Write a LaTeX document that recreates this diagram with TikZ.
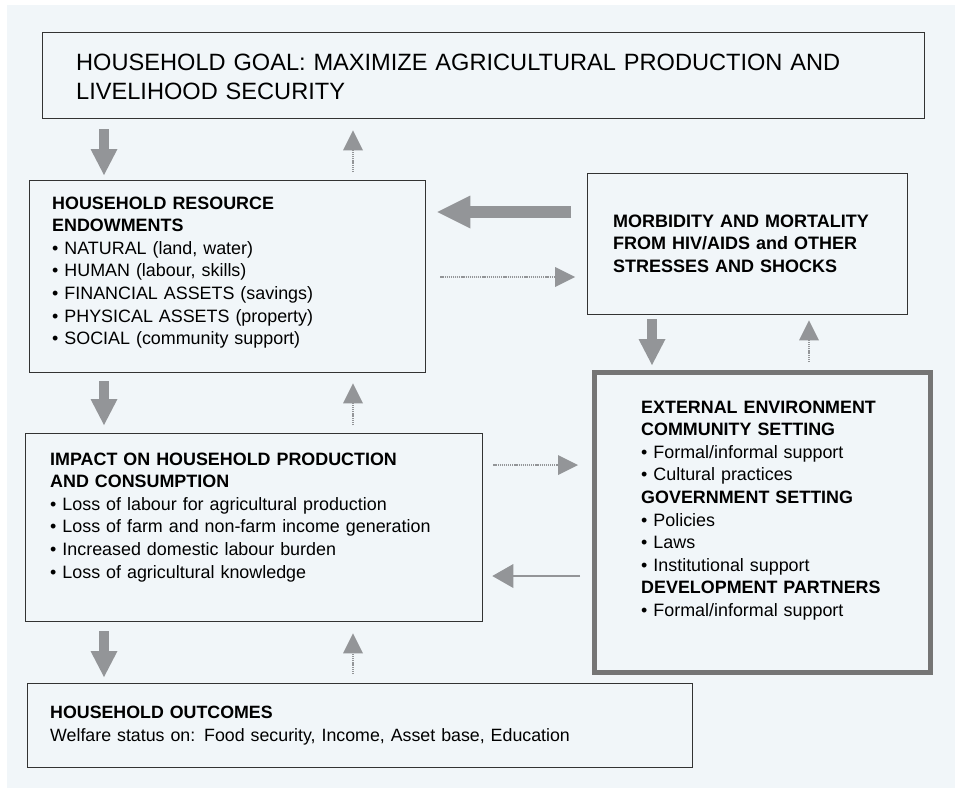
\documentclass[tikz,border=0pt]{standalone}
\usepackage{fontspec}
\setmainfont{Liberation Sans}
\usetikzlibrary{arrows.meta,calc}
\definecolor{bgc}{HTML}{F1F6F9}
\definecolor{arrc}{HTML}{939598}
\definecolor{boxc}{HTML}{333333}
\definecolor{extc}{HTML}{757575}
\tikzset{
  box/.style={draw=boxc, line width=1.3pt, rectangle, inner sep=0pt, anchor=north west},
  extbox/.style={draw=extc, line width=4.5pt, rectangle, inner sep=0pt, anchor=north west},
  txt/.style={anchor=base west, inner sep=0pt, align=left, text width=#1,
    font=\fontsize{17.9}{22.6}\selectfont},
  bigarr/.style={draw=arrc, line width=9.5pt, -{Triangle[length=26pt,width=27pt,line width=0pt]}},
  hugearr/.style={draw=arrc, line width=12pt, -{Triangle[length=33pt,width=33pt,line width=0pt]}},
  dotarr/.style={draw=arrc, line width=1.2pt, dash pattern=on 1.2pt off 0.9pt,
    -{Triangle[length=20pt,width=20pt,line width=0pt]}},
  thinarr/.style={draw=arrc, line width=1.6pt, -{Triangle[length=21pt,width=24pt,line width=0pt]}},
}
\begin{document}
\begin{tikzpicture}[x=1pt,y=-1pt]
\useasboundingbox (0,0) rectangle (958,789);
\fill[bgc] (7,5) rectangle (955,788);

% boxes
\node[box, minimum width=882pt, minimum height=86pt] (goal) at (42,32) {};
\node[box, minimum width=396pt, minimum height=192pt] (res) at (29,180) {};
\node[box, minimum width=320pt, minimum height=141pt] (morb) at (587,173) {};
\node[extbox, minimum width=336pt, minimum height=300pt] (ext) at (592,370) {};
\node[box, minimum width=457pt, minimum height=188pt] (imp) at (25,433) {};
\node[box, minimum width=665pt, minimum height=84pt] (out) at (27,683) {};

% texts
\node[txt=860pt, font=\fontsize{23.6}{29}\selectfont] (goaltxt) at (76,71)
  {HOUSEHOLD GOAL: MAXIMIZE AGRICULTURAL PRODUCTION AND\\LIVELIHOOD SECURITY};
\node[txt=370pt] (restxt) at (52,209)
  {\textbf{HOUSEHOLD RESOURCE}\\\textbf{ENDOWMENTS}\\
   • NATURAL (land, water)\\
   • HUMAN (labour, skills)\\
   • FINANCIAL ASSETS (savings)\\
   • PHYSICAL ASSETS (property)\\
   • SOCIAL (community support)};
\node[txt=290pt, font=\fontsize{18}{22.6}\selectfont\bfseries] (morbtxt) at (613,227)
  {MORBIDITY AND MORTALITY\\FROM HIV/AIDS and OTHER\\STRESSES AND SHOCKS};
\node[txt=285pt] (exttxt) at (641,413)
  {\textbf{EXTERNAL ENVIRONMENT}\\\textbf{COMMUNITY SETTING}\\
   • Formal/informal support\\
   • Cultural practices\\
   \textbf{GOVERNMENT SETTING}\\
   • Policies\\
   • Laws\\
   • Institutional support\\
   \textbf{DEVELOPMENT PARTNERS}\\
   • Formal/informal support};
\node[txt=425pt] (imptxt) at (50,465)
  {\textbf{IMPACT ON HOUSEHOLD PRODUCTION}\\\textbf{AND CONSUMPTION}\\
   • Loss of labour for agricultural production\\
   • Loss of farm and non-farm income generation\\
   • Increased domestic labour burden\\
   • Loss of agricultural knowledge};
\node[txt=630pt, font=\fontsize{17.8}{23.5}\selectfont] (outtxt) at (50,718)
  {\textbf{HOUSEHOLD OUTCOMES}\\Welfare status on: Food security, Income, Asset base, Education};

% column / row guides
\coordinate (cL) at (104,0);
\coordinate (cR) at (353,0);
\coordinate (cM1) at (652,0);
\coordinate (cM2) at (809,0);
\coordinate (r1) at (0,212);
\coordinate (r2) at (0,277);
\coordinate (r3) at (0,465);
\coordinate (r4) at (0,576);

% vertical arrows, left column
\draw[bigarr] ($(goal.south -| cL)+(0,10)$) -- ($(res.north -| cL)+(0,-5)$);
\draw[dotarr] ($(res.north -| cR)+(0,-8)$) -- ($(goal.south -| cR)+(0,11)$);
\draw[bigarr] ($(res.south -| cL)+(0,8)$) -- ($(imp.north -| cL)+(0,-8)$);
\draw[dotarr] ($(imp.north -| cR)+(0,-8)$) -- ($(res.south -| cR)+(0,10)$);
\draw[bigarr] ($(imp.south -| cL)+(0,9)$) -- ($(out.north -| cL)+(0,-6)$);
\draw[dotarr] ($(out.north -| cR)+(0,-9)$) -- ($(imp.south -| cR)+(0,11)$);

% right column vertical arrows
\draw[bigarr] ($(morb.south -| cM1)+(0,4)$) -- ($(ext.north -| cM1)+(0,-5)$);
\draw[dotarr] ($(ext.north -| cM2)+(0,-8)$) -- ($(morb.south -| cM2)+(0,5)$);

% horizontal arrows
\draw[hugearr] ($(morb.west |- r1)+(-16,0)$) -- ($(res.east |- r1)+(11,0)$);
\draw[dotarr] ($(res.east |- r2)+(14,0)$) -- ($(morb.west |- r2)+(-12,0)$);
\draw[dotarr] ($(imp.east |- r3)+(10,0)$) -- ($(ext.west |- r3)+(-14,0)$);
\draw[thinarr] ($(ext.west |- r4)+(-12,0)$) -- ($(imp.east |- r4)+(9,0)$);
\end{tikzpicture}
\end{document}
